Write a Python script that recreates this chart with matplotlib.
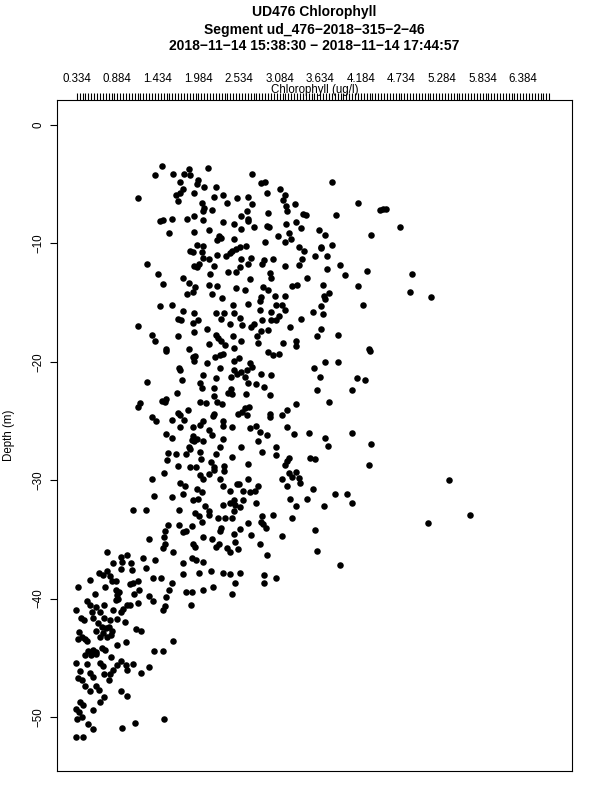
import matplotlib
matplotlib.use("Agg")
import matplotlib.pyplot as plt
import numpy as np

# chlorophyll (ug/l) and depth (m), by depth band
chl_upper = [
    1.49, 1.40, 1.64, 1.79, 1.86, 1.87, 2.11, 2.71, 1.73, 1.98,
    1.96, 2.06, 2.22, 2.83, 2.89, 1.16, 1.68, 1.74, 1.78, 1.70,
    1.93, 2.19, 2.31, 2.37, 2.51, 2.66, 2.91, 3.09, 3.16, 3.13,
    3.29, 3.17, 3.19, 3.40, 3.44, 2.03, 2.06, 2.17, 2.04, 2.71,
    2.64, 2.56, 2.65, 2.66, 2.93, 1.46, 1.50, 1.63, 1.83, 1.92,
    2.04, 2.32, 2.47, 2.56, 2.74, 2.91, 2.94, 3.17, 3.30, 3.37,
    1.92, 2.12, 1.59, 3.06, 3.21, 3.24, 3.16, 2.23, 2.26, 2.29,
    2.46, 1.97, 2.05, 2.88, 1.87, 1.91, 2.03, 2.05, 2.13, 2.23,
    2.36, 2.41, 2.44, 2.49, 2.55, 2.63, 2.56, 2.70, 2.87, 2.84,
    2.99, 3.35, 3.42, 3.39, 3.34, 1.28, 1.93, 1.96, 1.99, 2.20,
    2.39, 2.49, 2.55, 2.65, 3.16, 1.44, 1.50, 1.78, 1.86, 2.14,
    2.95, 2.97, 2.68, 3.45, 1.83, 1.91, 1.94, 2.12, 2.24, 2.17,
    2.30, 2.49, 2.61, 2.86, 2.92, 3.02, 3.16, 2.83, 2.82, 3.25,
    3.32, 1.46, 1.63, 1.78, 1.93, 2.22, 2.33, 2.45, 2.47, 2.65,
    3.04, 3.11, 3.15, 1.70, 1.75, 1.91, 1.98, 2.10, 2.29, 2.41,
    2.54, 2.58, 2.69, 2.74, 2.82, 2.85, 2.96, 3.03, 3.07, 2.96,
    3.37, 3.22, 1.16, 1.35, 1.39, 1.71, 1.92, 2.22, 2.25, 2.29,
    2.45, 2.56, 2.78, 2.83, 2.92, 3.13, 3.31, 3.30, 2.79, 2.12,
    2.35, 2.46, 1.55, 1.85,
    3.79, 4.14, 4.44, 4.48, 4.53, 3.85, 4.71, 4.32, 3.62, 3.70,
    3.80, 3.65, 3.64, 3.56, 3.73, 3.90, 3.97, 3.73, 4.27, 4.88,
    3.67, 4.14, 4.85, 5.14, 3.68, 3.75, 3.70, 3.64, 4.21, 3.53,
    3.67, 3.59, 3.64, 3.87, 4.30,
]
depth_upper = [
    -3.5, -4.2, -4.1, -4.1, -3.7, -4.2, -3.6, -4.1, -4.8, -4.6,
    -5.0, -5.2, -5.2, -4.9, -4.8, -6.2, -5.9, -5.7, -5.4, -6.4,
    -5.7, -6.1, -5.9, -6.6, -6.2, -6.1, -5.7, -5.4, -5.9, -6.3,
    -6.7, -6.8, -7.3, -7.5, -7.6, -6.6, -7.0, -7.2, -7.3, -6.7,
    -7.3, -7.7, -8.1, -7.9, -7.4, -8.1, -8.0, -7.9, -7.9, -7.7,
    -8.0, -8.2, -8.4, -8.8, -8.6, -8.5, -8.6, -8.4, -8.2, -8.7,
    -9.0, -8.9, -9.1, -9.4, -9.1, -9.6, -9.9, -9.7, -9.4, -9.5,
    -9.6, -10.1, -10.2, -9.9, -10.6, -10.7, -10.7, -11.2, -11.3, -11.0,
    -11.1, -10.8, -10.6, -10.5, -10.3, -10.2, -11.3, -11.2, -11.4, -11.7,
    -11.3, -10.3, -10.6, -11.3, -11.8, -11.7, -11.9, -12.0, -11.7, -11.9,
    -12.4, -12.4, -12.0, -11.7, -11.9, -12.6, -13.4, -12.9, -13.3, -12.6,
    -12.5, -12.9, -13.0, -12.9, -14.3, -14.1, -13.7, -13.5, -13.6, -14.3,
    -14.6, -13.8, -13.9, -13.7, -13.9, -14.4, -14.4, -14.5, -14.9, -13.6,
    -13.5, -15.3, -15.2, -15.7, -15.9, -15.9, -15.9, -15.2, -15.9, -15.1,
    -15.2, -15.2, -15.6, -16.4, -16.5, -16.7, -16.5, -17.2, -16.4, -16.8,
    -16.3, -16.9, -17.1, -16.8, -15.6, -16.5, -16.5, -16.5, -16.1, -15.8,
    -16.4, -17.1, -17.0, -17.7, -18.2, -17.8, -17.5, -17.7, -18.0, -18.2,
    -17.8, -18.2, -17.8, -17.4, -17.3, -18.4, -18.2, -18.7, -18.4, -18.5,
    -18.6, -18.8, -18.9, -18.9,
    -4.8, -6.6, -7.2, -7.1, -7.1, -7.6, -8.6, -9.3, -8.9, -9.3,
    -10.1, -10.3, -10.4, -11.1, -11.1, -11.8, -12.7, -12.2, -12.3, -12.6,
    -13.5, -13.6, -14.1, -14.5, -14.4, -14.2, -14.7, -15.3, -15.2, -15.8,
    -16.0, -17.8, -17.2, -17.7, -18.9,
]

chl_middle = [
    1.55, 1.91, 1.94, 1.92, 2.10, 2.21, 2.28, 2.31, 2.47, 2.53,
    2.68, 2.71, 2.64, 2.56, 2.61, 2.50, 2.42, 2.46, 2.92, 2.99,
    3.07, 2.83, 2.97, 1.72, 1.73, 1.76, 2.05, 2.22, 2.28, 1.29,
    2.01, 2.03, 2.20, 2.42, 2.44, 2.39, 2.66, 2.77, 2.87, 2.63,
    2.95, 1.69, 1.55, 1.53, 1.49, 1.19, 1.17, 2.00, 2.08, 2.20,
    2.23, 2.30, 3.31, 2.58, 2.62, 2.67, 2.52, 2.64, 1.84, 1.71,
    1.73, 1.62, 1.79, 2.20, 2.18, 2.04, 2.00, 2.32, 2.31, 2.44,
    2.68, 2.77, 2.82, 2.91, 2.95, 2.95, 3.12, 3.18, 3.18, 3.28,
    1.35, 1.41, 1.55, 1.63, 1.73, 1.91, 1.91, 1.90, 1.93, 1.96,
    2.05, 2.17, 2.13, 2.31, 2.28, 1.85, 1.82, 1.87, 2.01, 2.02,
    2.22, 2.44, 2.56, 2.79, 2.84, 3.04, 3.03, 3.21, 3.19, 3.16,
    3.48, 3.49, 1.57, 1.68, 1.56, 1.70, 1.87, 1.95, 2.16, 2.19,
    2.20, 2.33, 2.33, 2.66, 1.52, 1.35, 1.73, 1.80, 2.00, 2.05,
    2.12, 2.27, 2.32, 2.50, 2.53, 2.65, 2.79, 2.75, 2.68, 2.59,
    2.41, 3.11, 3.18, 3.21, 3.25, 3.31, 3.35, 3.36, 1.38, 1.63,
    1.78, 1.96, 2.03, 1.91, 1.98, 2.07, 2.32, 2.41, 2.47, 2.48,
    2.55, 2.59, 2.76, 3.23, 3.31, 3.46, 1.10, 1.27, 1.72, 1.94,
    1.99, 2.12, 2.13, 2.25, 2.34, 2.44, 2.47, 2.84, 2.83, 2.86,
    2.90, 2.99, 3.25, 2.66, 1.57, 1.53, 1.52, 1.72, 1.78, 1.82,
    1.89, 2.03, 2.05, 2.17, 2.27, 2.29, 2.47, 2.55, 2.70, 3.12,
    1.31,
    4.31, 3.70, 3.88, 3.55, 3.63, 4.13, 4.24, 3.59, 4.06, 3.75,
    4.07, 3.70, 3.74, 4.32, 4.29, 3.56, 5.38, 3.54, 3.84, 4.00,
    4.06, 3.69, 5.66, 5.09, 3.56,
]
depth_middle = [
    -19.1, -19.6, -19.5, -19.9, -20.1, -19.6, -19.4, -19.3, -19.9, -19.7,
    -20.1, -20.4, -20.7, -20.9, -21.3, -21.0, -21.3, -20.7, -19.2, -19.4,
    -19.3, -21.0, -21.1, -20.5, -20.7, -21.5, -21.1, -21.4, -20.5, -21.7,
    -21.8, -22.2, -22.2, -22.3, -22.7, -22.6, -21.8, -21.9, -22.1, -22.7,
    -22.8, -22.6, -23.1, -23.4, -23.3, -23.5, -23.8, -23.4, -23.5, -22.9,
    -23.4, -23.6, -23.6, -24.2, -23.9, -23.8, -24.4, -24.5, -24.1, -24.3,
    -24.5, -24.9, -24.9, -24.4, -24.6, -25.0, -25.3, -25.0, -25.4, -25.5,
    -25.6, -25.4, -25.9, -26.2, -24.4, -24.7, -24.5, -24.1, -25.5, -26.1,
    -24.7, -25.0, -26.1, -26.4, -25.5, -25.5, -26.3, -26.6, -26.7, -26.5,
    -26.7, -26.2, -25.8, -26.5, -27.2, -27.2, -27.8, -27.4, -27.6, -28.2,
    -27.8, -28.0, -27.2, -26.7, -27.6, -27.2, -27.9, -28.1, -28.4, -28.7,
    -26.0, -28.1, -27.7, -27.8, -28.3, -28.8, -28.9, -28.9, -28.5, -28.9,
    -29.1, -28.8, -29.2, -28.6, -29.4, -29.9, -30.2, -30.5, -29.6, -29.9,
    -29.5, -29.9, -30.5, -30.3, -30.3, -29.9, -30.5, -30.9, -31.0, -30.9,
    -30.9, -29.9, -30.5, -29.4, -29.7, -29.3, -29.8, -30.2, -31.3, -31.4,
    -31.2, -30.7, -31.0, -31.7, -31.6, -32.2, -32.1, -31.9, -31.7, -32.1,
    -32.3, -31.7, -31.9, -31.6, -32.2, -31.6, -32.5, -32.5, -32.5, -32.8,
    -33.0, -32.6, -32.9, -33.2, -33.2, -33.2, -32.6, -33.0, -33.5, -33.7,
    -34.0, -32.9, -33.2, -33.6, -33.8, -34.3, -34.8, -33.8, -34.4, -34.3,
    -33.9, -33.5, -34.8, -35.0, -34.3, -34.0, -34.5, -34.1, -34.6, -34.7,
    -35.0,
    -19.1, -20.0, -20.0, -20.5, -21.3, -21.4, -21.5, -22.4, -22.4, -23.4,
    -26.0, -26.4, -27.1, -26.9, -28.7, -28.2, -30.0, -30.7, -31.2, -31.2,
    -31.9, -32.2, -32.9, -33.6, -34.2,
]

chl_lower = [
    1.53, 1.51, 1.91, 1.94, 2.22, 2.26, 2.37, 2.41, 2.48, 2.52,
    2.82, 2.91, 0.74, 0.93, 1.02, 0.83, 0.95, 1.07, 1.23, 1.27,
    1.40, 1.64, 1.78, 1.90, 1.95, 2.04, 0.94, 1.08, 0.63, 0.69,
    0.75, 0.78, 0.81, 0.51, 0.35, 0.58, 0.72, 0.87, 1.05, 1.09,
    1.16, 1.18, 1.11, 0.86, 0.91, 0.88, 0.86, 0.90, 1.37, 1.47,
    1.63, 1.58, 1.54, 1.53, 1.51, 1.31, 1.37, 1.78, 1.99, 2.15,
    2.31, 2.41, 2.54, 2.48, 2.44, 2.87, 2.87, 3.03, 1.81, 1.89,
    2.05, 2.18, 1.88, 1.17, 0.47, 0.51, 0.59, 0.70, 0.33, 0.39,
    0.43, 0.54, 0.56, 0.65, 0.71, 0.79, 0.83, 0.93, 0.96, 1.01,
    1.06, 0.99, 0.88, 0.62, 0.68, 0.73, 0.77, 0.81, 0.69, 0.65,
    0.60, 0.75, 0.80, 0.37, 0.41, 0.35, 0.45, 0.48, 0.88, 1.00,
    1.14, 1.21, 1.38, 1.51, 1.64, 0.49, 0.55, 0.60, 0.67, 0.72,
    0.44, 0.53, 0.60, 0.65, 0.69, 0.80, 0.33, 0.48, 0.38, 0.35,
    0.40, 0.51, 0.55, 0.70, 0.77, 0.79, 0.82, 0.88, 0.93, 1.00,
    1.02, 1.10, 1.20, 1.31, 0.45, 0.51, 0.60, 0.63, 0.93, 1.02,
    0.65, 0.70, 0.38, 0.42, 0.32, 0.37, 0.41, 0.34, 0.55, 0.49,
    0.56, 0.95, 1.13, 1.52, 0.33, 0.42,
    3.59, 3.90,
]
depth_lower = [
    -35.4, -35.7, -35.4, -35.6, -35.6, -35.4, -35.7, -36.1, -35.2, -35.8,
    -35.4, -36.3, -36.1, -36.5, -36.3, -37.0, -36.9, -37.0, -36.6, -37.4,
    -36.7, -36.1, -37.0, -36.6, -36.7, -36.9, -37.5, -37.6, -37.8, -38.0,
    -37.7, -38.1, -38.5, -38.4, -39.0, -39.6, -39.0, -38.5, -38.8, -38.7,
    -38.5, -39.3, -39.6, -39.3, -39.4, -39.7, -40.1, -40.0, -38.3, -38.3,
    -38.7, -39.3, -39.9, -40.6, -41.0, -39.8, -40.2, -37.9, -37.8, -37.7,
    -37.8, -37.9, -37.8, -38.7, -39.6, -38.0, -38.7, -38.3, -39.4, -39.4,
    -39.3, -39.0, -40.5, -40.4, -40.2, -40.5, -40.7, -40.5, -41.0, -41.6,
    -41.8, -41.1, -41.6, -41.1, -41.6, -41.8, -41.0, -41.1, -40.9, -40.5,
    -40.5, -42.0, -41.7, -42.1, -42.4, -42.5, -42.4, -42.7, -42.9, -43.2,
    -42.7, -43.2, -43.1, -42.8, -43.2, -43.4, -43.4, -43.6, -43.9, -43.7,
    -42.6, -42.7, -44.4, -44.4, -43.6, -44.4, -44.3, -44.5, -44.2, -44.3,
    -44.8, -44.8, -44.7, -45.4, -45.7, -44.9, -45.4, -45.5, -46.1, -46.7,
    -46.9, -46.3, -46.6, -46.4, -46.9, -46.4, -46.0, -45.6, -45.3, -45.6,
    -46.0, -45.5, -46.3, -45.8, -47.4, -47.8, -47.4, -47.7, -47.8, -48.2,
    -48.7, -48.3, -48.7, -49.0, -49.3, -49.6, -50.0, -50.2, -49.4, -50.6,
    -51.0, -50.9, -50.5, -50.2, -51.7, -51.7,
    -36.0, -37.2,
]

depth_ticks = [0, -10, -20, -30, -40, -50]
chl_labels = [0.334, 0.884, 1.434, 1.984, 2.534, 3.084, 3.634, 4.184,
              4.734, 5.284, 5.834, 6.384]

title_lines = ["UD476 Chlorophyll",
               "Segment ud_476-2018-315-2-46",
               "2018-11-14 15:38:30 - 2018-11-14 17:44:57"]

chl = chl_upper + chl_middle + chl_lower
depth = depth_upper + depth_middle + depth_lower
assert len(chl) == len(depth)

plt.rcParams['font.family'] = ['Liberation Sans', 'DejaVu Sans']

fig = plt.figure(figsize=(6, 8), dpi=100)
ax = fig.add_axes([0.0955, 0.03625, 0.8573, 0.838375])

ax.plot(chl, depth, 'o', color='black', ms=4.7, mew=0)

ax.set_xlim(0.071, 7.041)
ax.set_ylim(-54.56, 2.09)

# top axis: a tick every 0.55/14, labels only every 14th (R drops overlapping ones)
step = 0.55 / 14
minor = chl_labels[0] + step * np.arange(164)
ax.xaxis.tick_top()
ax.set_xticks(chl_labels)
ax.set_xticklabels(["%.3f" % v for v in chl_labels])
ax.set_xticks(minor, minor=True)
ax.tick_params(axis='x', which='both', direction='out', length=5, width=0.8,
               pad=6, labelsize=8.3, bottom=False, top=True)

# the reference device draws "-" with the long minus glyph
ax.set_yticks(depth_ticks)
ax.set_yticklabels([str(v).replace("-", "\u2212") for v in depth_ticks],
                   rotation=90, va='center')
ax.tick_params(axis='y', length=5.3, width=0.8, pad=4, labelsize=8.3)

for sp in ax.spines.values():
    sp.set_linewidth(0.8)

ax.text(0.5, 1.016, "Chlorophyll (ug/l)", transform=ax.transAxes,
        ha='center', va='center', fontsize=8.3)

for y, line in zip([0.985, 0.963, 0.943], title_lines):
    fig.text(0.5242, y, line.replace("-", "\u2212"), ha='center', va='center',
             fontsize=10, fontweight='bold')

fig.text(0.0142, 0.4555, "Depth (m)", rotation=90, ha='center', va='center',
         fontsize=8.3)

fig.savefig("out.png", dpi=100)
